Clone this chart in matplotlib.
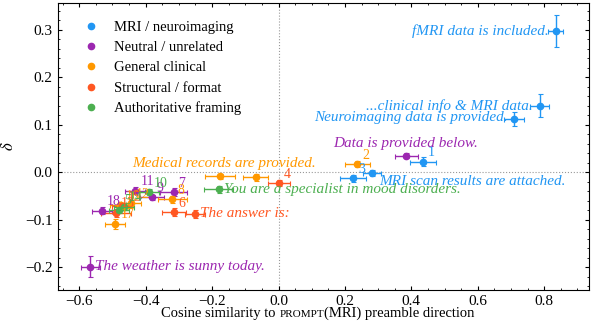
import numpy as np
import matplotlib
matplotlib.use("Agg")
import matplotlib.pyplot as plt
from matplotlib.lines import Line2D
from matplotlib.ticker import AutoMinorLocator, MultipleLocator
from matplotlib.offsetbox import TextArea, HPacker, AnchoredOffsetbox

# ================================================================
# Data
# ================================================================

CATEGORIES = ["MRI / neuroimaging", "Neutral / unrelated", "General clinical",
              "Structural / format", "Authoritative framing"]
COLORS = ["#2196F3", "#9C27B0", "#FF9800", "#FF5722", "#4CAF50"]

# per category: cosine sim, delta, x error, y error, number label
mri_x = [0.835, 0.786, 0.710, 0.435, 0.282, 0.224]
mri_y = [0.297, 0.140, 0.112, 0.022, -0.002, -0.013]
mri_xerr = [0.022, 0.030, 0.030, 0.038, 0.028, 0.040]
mri_yerr = [0.034, 0.024, 0.014, 0.010, 0.007, 0.008]
mri_num = ["", "", "", "1", "", "3"]

neu_x = [0.385, -0.316, -0.381, -0.431, -0.531, -0.567]
neu_y = [0.035, -0.042, -0.053, -0.039, -0.081, -0.199]
neu_xerr = [0.034, 0.040, 0.035, 0.030, 0.030, 0.028]
neu_yerr = [0.005, 0.008, 0.006, 0.007, 0.007, 0.022]
neu_num = ["", "7", "9", "11", "18", ""]

gen_x = [0.237, -0.175, -0.069, -0.320, -0.445, -0.476, -0.491]
gen_y = [0.017, -0.009, -0.011, -0.057, -0.065, -0.070, -0.109]
gen_xerr = [0.038, 0.045, 0.038, 0.044, 0.030, 0.030, 0.030]
gen_yerr = [0.006, 0.006, 0.007, 0.007, 0.007, 0.007, 0.010]
gen_num = ["2", "", "", "8", "12", "16", "17"]

struct_x = [0.001, -0.251, -0.315, -0.489, -0.470]
struct_y = [-0.023, -0.088, -0.084, -0.086, -0.072]
struct_xerr = [0.033, 0.030, 0.035, 0.045, 0.030]
struct_yerr = [0.006, 0.008, 0.008, 0.008, 0.007]
struct_num = ["4", "", "6", "13", "15"]

auth_x = [-0.180, -0.389, -0.479, -0.465]
auth_y = [-0.036, -0.042, -0.079, -0.073]
auth_xerr = [0.043, 0.030, 0.030, 0.030]
auth_yerr = [0.007, 0.006, 0.007, 0.007]
auth_num = ["", "10", "5", "14"]

SERIES = [
    (mri_x, mri_y, mri_xerr, mri_yerr, mri_num),
    (neu_x, neu_y, neu_xerr, neu_yerr, neu_num),
    (gen_x, gen_y, gen_xerr, gen_yerr, gen_num),
    (struct_x, struct_y, struct_xerr, struct_yerr, struct_num),
    (auth_x, auth_y, auth_xerr, auth_yerr, auth_num),
]

# quoted prompt labels: text, category, x, y, alignment
prompt_text = ["fMRI data is included.", "...clinical info & MRI data.",
               "Neuroimaging data is provided.", "MRI scan results are attached.",
               "Data is provided below.", "The weather is sunny today.",
               "Medical records are provided.", "The answer is:",
               "You are a specialist in mood disorders."]
prompt_cat = [0, 0, 0, 0, 1, 1, 2, 3, 4]
prompt_x = [0.815, 0.767, 0.690, 0.303, 0.600, -0.552, 0.112, -0.236, -0.165]
prompt_y = [0.297, 0.140, 0.115, -0.019, 0.061, -0.199, 0.019, -0.088, -0.037]
prompt_ha = ["right", "right", "right", "left", "right", "left", "right", "left", "left"]

# ================================================================
# Style
# ================================================================

plt.rcParams.update({
    "font.family": ["Liberation Serif", "DejaVu Serif"],
    "mathtext.fontset": "stix",
    "font.size": 11,
    "xtick.direction": "in",
    "ytick.direction": "in",
    "xtick.top": True,
    "ytick.right": True,
    "xtick.major.size": 3,
    "ytick.major.size": 3,
    "xtick.minor.size": 1.5,
    "ytick.minor.size": 1.5,
    "axes.linewidth": 0.8,
})

fig = plt.figure(figsize=(5.91, 3.24), dpi=100)
ax = fig.add_axes([0.0976, 0.105, 0.899, 0.887])

ax.axhline(0, color="0.6", linestyle=":", linewidth=0.8, zorder=0)
ax.axvline(0, color="0.6", linestyle=":", linewidth=0.8, zorder=0)

for (xs, ys, xe, ye, nums), color in zip(SERIES, COLORS):
    ax.errorbar(xs, ys, xerr=xe, yerr=ye, fmt="o", color=color, markersize=4.5,
                ecolor=color, elinewidth=1.0, capsize=1.8, capthick=0.8,
                zorder=3)
    for x, y, n in zip(xs, ys, nums):
        if n:
            ax.annotate(n, (x, y), xytext=(3.5, 6.5), textcoords="offset points",
                        color=color, fontsize=10, ha="left", va="center", zorder=4)

for t, c, x, y, ha in zip(prompt_text, prompt_cat, prompt_x, prompt_y, prompt_ha):
    ax.text(x, y, t, color=COLORS[c], fontsize=11, style="italic", ha=ha,
            va="center", zorder=4)

ax.set_xlim(-0.665, 0.935)
ax.set_ylim(-0.248, 0.357)
ax.xaxis.set_major_locator(MultipleLocator(0.2))
ax.yaxis.set_major_locator(MultipleLocator(0.1))
ax.xaxis.set_minor_locator(AutoMinorLocator(4))
ax.yaxis.set_minor_locator(AutoMinorLocator(5))
ax.set_ylabel(r"$\delta$", fontsize=12, labelpad=6)

# x label with small-caps PROMPT
parts = [TextArea("Cosine similarity to ", textprops=dict(fontsize=10.5)),
         TextArea("PROMPT", textprops=dict(fontsize=8)),
         TextArea("(MRI) preamble direction", textprops=dict(fontsize=10.5))]
box = HPacker(children=parts, align="baseline", pad=0, sep=0)
anch = AnchoredOffsetbox(loc="upper center", child=box, frameon=False,
                         bbox_to_anchor=(0.49, -0.058), bbox_transform=ax.transAxes,
                         borderpad=0, pad=0)
ax.add_artist(anch)

handles = [Line2D([], [], marker="o", linestyle="", color=c, markersize=4.5)
           for c in COLORS]
ax.legend(handles, CATEGORIES, loc="upper left", frameon=False, fontsize=10.5,
          handlelength=1.0, handletextpad=1.05, labelspacing=0.48,
          borderaxespad=0.3, bbox_to_anchor=(0.03, 0.972))

fig.savefig("out.png", dpi=100)
